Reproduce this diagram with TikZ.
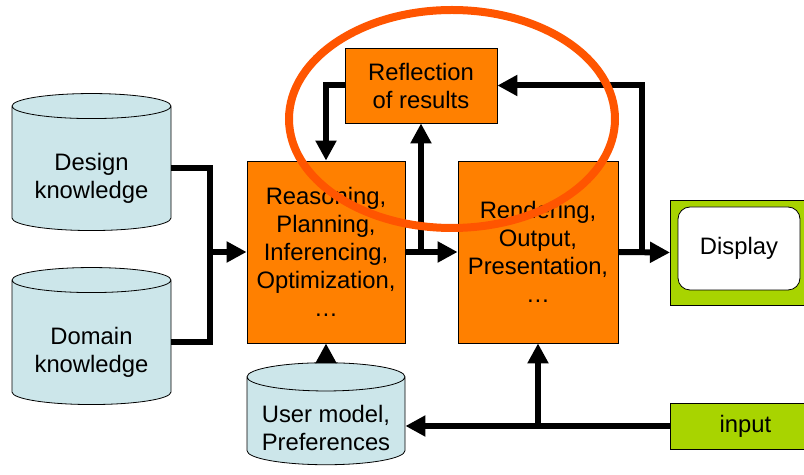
\documentclass[tikz,border=0pt]{standalone}
\usepackage{fontspec}
\setmainfont{Liberation Sans}
\usetikzlibrary{shapes.geometric,arrows.meta}
\definecolor{boxorange}{RGB}{255,128,0}
\definecolor{dbblue}{RGB}{204,230,234}
\definecolor{iogreen}{RGB}{168,212,0}
\definecolor{ringred}{RGB}{255,85,0}
\newcommand{\dbtext}[1]{\raisebox{-5pt}[\height][\depth]{\begin{tabular}{@{}c@{}}#1\end{tabular}}}

\begin{document}
\begin{tikzpicture}[x=0.5pt, y=-0.5pt,
  font=\fontsize{11.9}{14}\selectfont,
  db/.style={cylinder, shape border rotate=90, aspect=0.22, draw, thin,
    cylinder uses custom fill, cylinder body fill=dbblue, cylinder end fill=dbblue,
    align=center, inner sep=0pt},
  proc/.style={rectangle, draw, thin, fill=boxorange, align=center, inner sep=0pt},
  io/.style={rectangle, draw, thin, fill=iogreen, align=center, inner sep=0pt},
  flow/.style={line width=3pt},
  arr/.style={flow, -{Triangle[length=10pt, width=10pt]}},
  ring/.style={draw=ringred, line width=4pt}]
\useasboundingbox (0,0) rectangle (804,475);
% data stores
\node[db, minimum width=159*0.5pt, minimum height=137*0.5pt] (design) at (91.5,168.5) {\dbtext{Design\\knowledge}};
\node[db, minimum width=159*0.5pt, minimum height=137*0.5pt] (domain) at (91.5,342.5) {\dbtext{Domain\\knowledge}};
\node[db, minimum width=158*0.5pt, minimum height=102*0.5pt] (user) at (326,421) {\dbtext{User model,\\Preferences}};
% processing blocks
\node[proc, minimum width=158*0.5pt, minimum height=182*0.5pt] (reason) at (326,252) {Reasoning,\\Planning,\\Inferencing,\\Optimization,\\…};
\node[proc, minimum width=160*0.5pt, minimum height=182*0.5pt] (render) at (538,252) {Rendering,\\Output,\\Presentation,\\…};
\node[proc, minimum width=152*0.5pt, minimum height=75*0.5pt] (reflect) at (421,85.5) {Reflection\\of results};
% display and input
\node[io, anchor=west, minimum width=150*0.5pt, minimum height=105*0.5pt] (display) at (670,252.5) {};
\node[draw, thin, fill=white, rounded corners=6pt, minimum width=122*0.5pt, minimum height=83*0.5pt] (screen) at (739,248.5) {Display};
\node[io, anchor=west, minimum width=150*0.5pt, minimum height=46*0.5pt] (input) at (670,426) {input};
% connectors
\coordinate (join) at (210,252);
\coordinate (tap) at (421,252);
\coordinate (back) at (642,252);
\coordinate (split) at (538,426);
\draw[flow] (design.east) -| (join);
\draw[flow] (domain.east) -| (join);
\draw[arr] (join) -- (reason.west);
\draw[arr] (reason.east) -- (render.west);
\draw[arr] (tap) -- (reflect.south);
\draw[arr] (reflect.west) -| (reason.north);
\draw[arr] (render.east) -- (display.west);
\draw[arr] (back) |- (reflect.east);
\draw[arr] (input.west) -- (input.west -| user.east);
\draw[arr] (split) -- (render.south);
\draw[arr] (user.top) -- (reason.south);
% highlight
\draw[ring] (452,119) ellipse [x radius=163, y radius=109];
\end{tikzpicture}
\end{document}
